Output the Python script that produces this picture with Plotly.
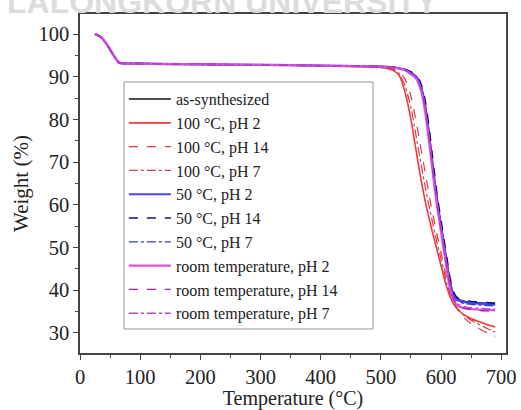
import plotly.graph_objects as go

temps = [25, 35, 45, 55, 65, 100, 200, 300, 400, 500, 520, 530, 540, 550, 560, 565,
         570, 575, 580, 585, 590, 595, 600, 605, 610, 615, 620, 625, 630, 640, 650,
         660, 670, 680, 690]

start = [100, 99.3, 97.5, 95.2, 93.3, 93.1, 92.9, 92.8, 92.6]

as_synth = start + [92.4, 92.2, 92.0, 91.7, 91.0, 89.9, 88.5, 86.2, 82.5, 77.2, 71.2, 65.2,
                    60.0, 55.5, 51.0, 46.5, 42.2, 39.5, 38.3, 37.8, 37.4, 37.2, 37.1, 37.0,
                    36.9, 36.9]
c100_ph2 = start + [92.2, 91.5, 90.4, 86.5, 80.0, 71.5, 67.3, 63.5, 60.0, 57.0, 54.0, 51.3,
                    48.5, 45.8, 43.0, 40.5, 38.5, 37.0, 36.0, 35.2, 34.1, 33.4, 32.8, 32.3,
                    31.8, 31.4]
c100_ph14 = start + [92.3, 91.9, 91.2, 89.5, 85.5, 78.5, 74.5, 70.5, 66.5, 62.5, 58.8, 55.3,
                     52.0, 48.8, 45.6, 42.6, 40.0, 37.8, 36.2, 35.0, 33.3, 32.2, 31.3, 30.5,
                     29.8, 29.2]
c100_ph7 = start + [92.2, 91.7, 90.8, 88.0, 82.8, 75.0, 71.0, 67.0, 63.3, 59.8, 56.5, 53.3,
                    50.2, 47.3, 44.3, 41.5, 39.2, 37.4, 36.1, 35.2, 33.9, 33.0, 32.2, 31.5,
                    30.8, 30.2]
c50_ph2 = start + [92.4, 92.2, 92.0, 91.6, 90.9, 89.8, 88.3, 85.8, 81.8, 76.5, 70.5, 64.5,
                   59.5, 55.0, 50.5, 46.0, 41.8, 39.2, 38.1, 37.6, 37.2, 37.0, 36.9, 36.8,
                   36.7, 36.6]
c50_ph14 = start + [92.4, 92.3, 92.1, 91.8, 91.2, 90.2, 89.0, 87.0, 83.5, 78.5, 72.5, 66.5,
                    61.0, 56.5, 52.0, 47.5, 43.0, 40.0, 38.6, 38.0, 37.6, 37.4, 37.3, 37.2,
                    37.1, 37.0]
c50_ph7 = start + [92.4, 92.2, 91.9, 91.5, 90.7, 89.5, 87.8, 85.2, 81.0, 75.5, 69.5, 63.8,
                   58.8, 54.2, 49.8, 45.2, 41.0, 38.8, 37.8, 37.3, 36.9, 36.7, 36.6, 36.5,
                   36.4, 36.4]
rt_ph2 = start + [92.4, 92.2, 91.9, 91.5, 90.6, 89.3, 87.6, 84.8, 80.5, 75.0, 69.0, 63.2,
                  58.2, 53.6, 49.0, 44.5, 40.5, 38.0, 36.8, 36.2, 35.8, 35.6, 35.5, 35.4,
                  35.4, 35.3]
rt_ph14 = start + [92.4, 92.3, 92.0, 91.6, 90.8, 89.6, 88.0, 85.4, 81.2, 75.8, 69.8, 64.0,
                   59.0, 54.4, 49.8, 45.3, 41.0, 38.2, 36.9, 36.2, 35.7, 35.5, 35.3, 35.2,
                   35.1, 35.0]
rt_ph7 = start + [92.4, 92.2, 92.0, 91.6, 90.9, 89.7, 88.2, 85.7, 81.6, 76.2, 70.2, 64.3,
                  59.3, 54.8, 50.2, 45.7, 41.5, 38.6, 37.2, 36.6, 36.1, 35.9, 35.8, 35.7,
                  35.6, 35.6]

names = ["as-synthesized", "100 °C, pH 2", "100 °C, pH 14", "100 °C, pH 7",
         "50 °C, pH 2", "50 °C, pH 14", "50 °C, pH 7",
         "room temperature, pH 2", "room temperature, pH 14", "room temperature, pH 7"]
series = [as_synth, c100_ph2, c100_ph14, c100_ph7, c50_ph2, c50_ph14, c50_ph7,
          rt_ph2, rt_ph14, rt_ph7]
colors = ["#111111", "#f03a3a", "#e0383c", "#d83a50",
          "#4444ff", "#101080", "#3a3acc",
          "#e050e0", "#a020a8", "#c040d0"]
dashes = ["solid", "solid", "dash", "dashdot",
          "solid", "dash", "dashdot",
          "solid", "dash", "dashdot"]
widths = [1.4, 1.6, 1.2, 1.2, 2.2, 1.4, 1.4, 2.2, 1.3, 1.3]

x_ticks = [0, 100, 200, 300, 400, 500, 600, 700]
y_ticks = [30, 40, 50, 60, 70, 80, 90, 100]

fig = go.Figure()
for nm, ys, c, d, w in zip(names, series, colors, dashes, widths):
    fig.add_trace(go.Scatter(x=temps, y=ys, mode="lines", name=nm,
                             line=dict(color=c, dash=d, width=w, shape="spline",
                                       smoothing=0.6)))

serif = "Liberation Serif"
axis_common = dict(
    showline=True, linecolor="#444444", linewidth=1.5, mirror=True,
    ticks="outside", ticklen=5, tickwidth=1.3, tickcolor="#444444",
    showgrid=False, zeroline=False, automargin=False,
    tickfont=dict(family=serif, size=20.5, color="#222222"),
    minor=dict(ticks="outside", ticklen=3, tickwidth=1.1, tickcolor="#444444"),
)

fig.update_layout(
    width=521, height=410,
    margin=dict(l=80, r=15, t=14, b=57, autoexpand=False),
    paper_bgcolor="white", plot_bgcolor="white",
    font=dict(family=serif, color="#222222"),
    xaxis=dict(range=[0, 708], tickvals=x_ticks, **axis_common,
               title=dict(text="Temperature (°C)", font=dict(family=serif, size=20),
                          standoff=3)),
    yaxis=dict(range=[25.3, 104.7], tickvals=y_ticks, **axis_common,
               title=dict(text="Weight (%)", font=dict(family=serif, size=21),
                          standoff=4)),
    legend=dict(x=0.103, y=0.799, xanchor="left", yanchor="top",
                bgcolor="rgba(0,0,0,0)", borderwidth=0,
                font=dict(family=serif, size=16, color="#222222"),
                itemwidth=42, tracegroupgap=0),
    showlegend=True,
)
fig.update_xaxes(minor=dict(tickvals=[50, 150, 250, 350, 450, 550, 650]))
fig.update_yaxes(minor=dict(tickvals=[35, 45, 55, 65, 75, 85, 95]))

# legend frame (wider than Plotly's auto-sized box, as in the reference)
fig.add_shape(type="rect", xref="paper", yref="paper",
              x0=0.1033, x1=0.6878, y0=0.0708, y1=0.7994,
              line=dict(color="#999999", width=1), fillcolor="white", layer="below")

fig.add_annotation(text="<b>LALONGKORN UNIVERSITY</b>", xref="paper", yref="paper",
                   x=-0.175, y=1.035, xanchor="left", yanchor="middle", showarrow=False,
                   font=dict(family="Liberation Sans", size=32, color="#dcdcdc"))

fig.write_html("out.html")
